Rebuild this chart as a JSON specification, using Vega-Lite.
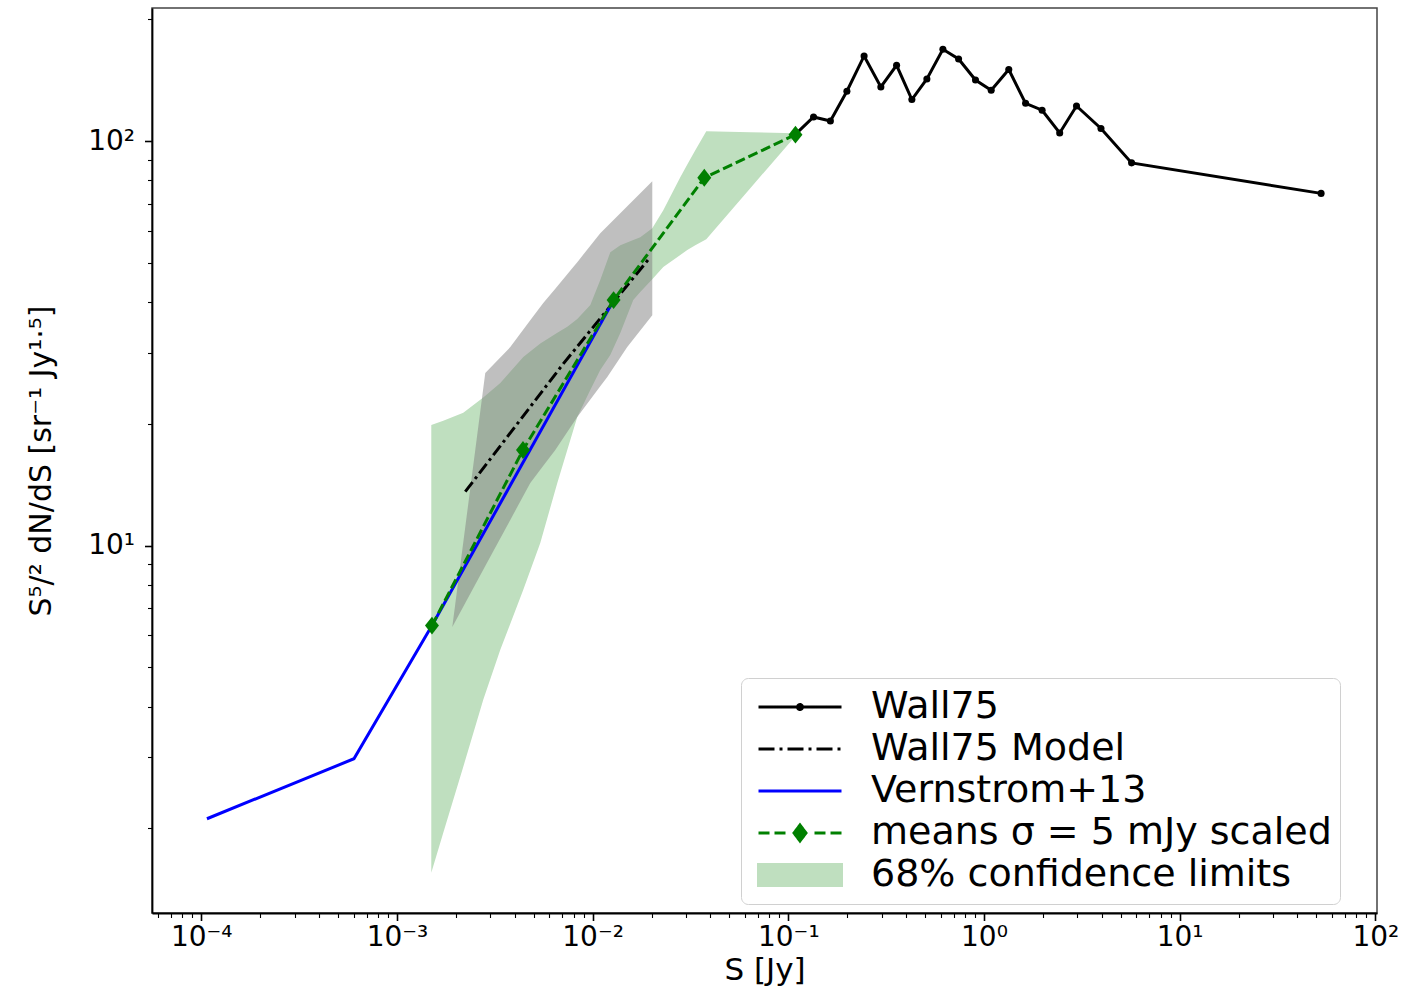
{
  "$schema": "https://vega.github.io/schema/vega-lite/v6.json",
  "width": 1225,
  "height": 905,
  "autosize": {"type": "none"},
  "padding": {"left": 152, "top": 8, "right": 29, "bottom": 73},
  "background": "white",
  "config": {
    "view": {"stroke": "#444", "strokeWidth": 1.5},
    "font": "DejaVu Sans",
    "axis": {
      "domainColor": "black", "domainWidth": 1.8, "tickColor": "black", "grid": false,
      "labelFont": "DejaVu Sans", "labelFontSize": 28, "labelColor": "black",
      "labelOverlap": false, "labelFlush": false, "labelBound": false,
      "titleColor": "black", "titleFontWeight": "normal"
    },
    "legend": {
      "symbolType": {"expr": "datum.value === 'Wall75' ? 'M-0.633,0H4.9M1.968,0a0.165,0.165 0 1,0 0.33,0a0.165,0.165 0 1,0 -0.33,0' : datum.value === 'means σ = 5 mJy scaled' ? 'M-0.633,0H0.1M0.433,0H1.167M3.1,0H3.833M4.167,0H4.9M2.133,-0.53L2.533,0L2.133,0.53L1.733,0Z' : datum.value === '68% confidence limits' ? 'M-0.633,-0.7H4.9V0.7H-0.633Z' : 'M-0.633,0H4.9'"},
      "symbolFillColor": {"expr": "datum.value === 'Vernstrom+13' ? 'blue' : datum.value === '68% confidence limits' ? '#bfdfbf' : datum.value === 'means σ = 5 mJy scaled' ? 'green' : 'black'"},
      "symbolStrokeColor": {"expr": "datum.value === 'Vernstrom+13' ? 'blue' : datum.value === '68% confidence limits' ? 'transparent' : datum.value === 'means σ = 5 mJy scaled' ? 'green' : 'black'"},
      "symbolDash": {"expr": "datum.value === 'Wall75 Model' ? [16,5,3,5] : [1,0]"},
      "symbolStrokeWidth": 3,
      "symbolOpacity": 1
    }
  },
  "datasets": {
    "wall": [
      {"S": 0.1090, "N": 104.1}, {"S": 0.1346, "N": 114.8}, {"S": 0.1641, "N": 112.2},
      {"S": 0.1993, "N": 132.9}, {"S": 0.2440, "N": 162.5}, {"S": 0.2972, "N": 136.2},
      {"S": 0.3576, "N": 154.1}, {"S": 0.4281, "N": 126.8}, {"S": 0.5108, "N": 142.5},
      {"S": 0.6168, "N": 168.8}, {"S": 0.7418, "N": 159.7}, {"S": 0.9052, "N": 141.7},
      {"S": 1.089, "N": 133.7}, {"S": 1.339, "N": 150.4}, {"S": 1.632, "N": 124.1},
      {"S": 1.982, "N": 119.3}, {"S": 2.438, "N": 104.8}, {"S": 2.971, "N": 122.2},
      {"S": 3.963, "N": 107.5}, {"S": 5.680, "N": 88.4}, {"S": 52.83, "N": 74.3}
    ],
    "model": [
      {"S": 0.002235, "N": 13.60}, {"S": 0.007107, "N": 28.23}, {"S": 0.01971, "N": 51.69}
    ],
    "vern": [
      {"S": 0.0001069, "N": 2.112}, {"S": 0.000603, "N": 2.972}, {"S": 0.00151, "N": 6.343}, {"S": 0.0129, "N": 40.70}
    ],
    "means": [
      {"S": 0.00151, "N": 6.343}, {"S": 0.004407, "N": 17.24}, {"S": 0.0128, "N": 40.47},
      {"S": 0.03721, "N": 81.20}, {"S": 0.1088, "N": 103.8}
    ],
    "band": [
      {"S": 0.001498, "hi": 19.87, "lo": 1.553}, {"S": 0.001725, "hi": 20.35, "lo": 1.950},
      {"S": 0.002183, "hi": 21.31, "lo": 2.840}, {"S": 0.002761, "hi": 23.24, "lo": 4.156},
      {"S": 0.003374, "hi": 25.23, "lo": 5.525}, {"S": 0.004422, "hi": 29.26, "lo": 7.775},
      {"S": 0.005401, "hi": 31.59, "lo": 10.15}, {"S": 0.006599, "hi": 33.60, "lo": 14.29},
      {"S": 0.007422, "hi": 34.76, "lo": 17.24}, {"S": 0.008348, "hi": 36.33, "lo": 20.80},
      {"S": 0.009730, "hi": 39.34, "lo": 24.25}, {"S": 0.010941, "hi": 45.35, "lo": 27.18},
      {"S": 0.012312, "hi": 53.18, "lo": 29.59}, {"S": 0.013850, "hi": 55.34, "lo": 33.55},
      {"S": 0.016133, "hi": 57.01, "lo": 40.47}, {"S": 0.017521, "hi": 57.92, "lo": 42.36},
      {"S": 0.020178, "hi": 60.95, "lo": 45.60}, {"S": 0.022970, "hi": 67.52, "lo": 48.84},
      {"S": 0.028054, "hi": 81.47, "lo": 52.29}, {"S": 0.030463, "hi": 87.53, "lo": 53.80},
      {"S": 0.033473, "hi": 95.00, "lo": 55.34}, {"S": 0.038097, "hi": 105.85, "lo": 57.26},
      {"S": 0.063938, "hi": 105.25, "lo": 76.53}, {"S": 0.10856, "hi": 104.66, "lo": 102.9}
    ],
    "grey": [
      {"S": 0.001918, "hi": 6.296, "lo": 6.296}, {"S": 0.002827, "hi": 26.71, "lo": 8.906},
      {"S": 0.003795, "hi": 30.97, "lo": 11.58}, {"S": 0.004801, "hi": 36.06, "lo": 14.29},
      {"S": 0.005595, "hi": 39.78, "lo": 15.76}, {"S": 0.006446, "hi": 43.18, "lo": 17.24},
      {"S": 0.007964, "hi": 48.84, "lo": 20.10}, {"S": 0.008348, "hi": 50.23, "lo": 20.80},
      {"S": 0.010941, "hi": 59.25, "lo": 24.77}, {"S": 0.011883, "hi": 61.66, "lo": 26.11},
      {"S": 0.015031, "hi": 69.08, "lo": 30.97}, {"S": 0.020178, "hi": 79.62, "lo": 37.15}
    ]
  },
  "encoding": {
    "x": {
      "field": "S", "type": "quantitative",
      "scale": {"type": "log", "domain": [0.000056, 102], "nice": false},
      "axis": {
        "title": "S [Jy]", "titleFontSize": 31, "titleFont": "DejaVu Sans", "titlePadding": 4,
        "values": [0.00006, 0.00007, 0.00008, 0.00009, 0.0001, 0.0002, 0.0003, 0.0004, 0.0005, 0.0006, 0.0007, 0.0008, 0.0009, 0.001, 0.002, 0.003, 0.004, 0.005, 0.006, 0.007, 0.008, 0.009, 0.01, 0.02, 0.03, 0.04, 0.05, 0.06, 0.07, 0.08, 0.09, 0.1, 0.2, 0.3, 0.4, 0.5, 0.6, 0.7, 0.8, 0.9, 1, 2, 3, 4, 5, 6, 7, 8, 9, 10, 20, 30, 40, 50, 60, 70, 80, 90, 100],
        "labelExpr": "abs(log(datum.value)/LN10 - round(log(datum.value)/LN10)) < 0.001 ? ['10⁻⁴','10⁻³','10⁻²','10⁻¹','10⁰','10¹','10²'][round(log(datum.value)/LN10)+4] : ''",
        "tickSize": {"condition": {"test": "abs(log(datum.value)/LN10 - round(log(datum.value)/LN10)) < 0.001", "value": 7.5}, "value": 4.5},
        "tickWidth": {"condition": {"test": "abs(log(datum.value)/LN10 - round(log(datum.value)/LN10)) < 0.001", "value": 1.6}, "value": 1.1},
        "labelPadding": 3
      }
    },
    "y": {
      "field": "N", "type": "quantitative",
      "scale": {"type": "log", "domain": [1.235, 213.5], "nice": false},
      "axis": {
        "title": "S⁵/² dN/dS [sr⁻¹ Jy¹·⁵]", "titleFontSize": 30, "titleFont": "DejaVu Sans", "titlePadding": 31,
        "values": [2, 3, 4, 5, 6, 7, 8, 9, 10, 20, 30, 40, 50, 60, 70, 80, 90, 100, 200],
        "labelExpr": "datum.value == 10 ? '10¹' : datum.value == 100 ? '10²' : ''",
        "tickSize": {"condition": {"test": "datum.value == 10 || datum.value == 100", "value": 7.5}, "value": 4.5},
        "tickWidth": {"condition": {"test": "datum.value == 10 || datum.value == 100", "value": 1.6}, "value": 1.1},
        "labelPadding": 10
      }
    }
  },
  "layer": [
    {
      "data": {"name": "band"},
      "mark": {"type": "area", "opacity": 1},
      "encoding": {
        "y": {"field": "hi", "type": "quantitative"},
        "y2": {"field": "lo"},
        "color": {
          "datum": "68% confidence limits",
          "scale": {
            "domain": ["Wall75", "Wall75 Model", "Vernstrom+13", "means σ = 5 mJy scaled", "68% confidence limits"],
            "range": ["black", "black", "blue", "green", "#bfdfbf"]
          },
          "legend": {
            "title": null,
            "orient": "none", "legendX": 589, "legendY": 670,
            "padding": 8, "strokeColor": "#d0d0d0", "fillColor": "white", "cornerRadius": 7,
            "labelFont": "DejaVu Sans", "labelFontSize": 38, "labelColor": "black", "labelLimit": 900,
            "symbolSize": 900, "labelOffset": 84, "rowPadding": 0, "clipHeight": 42
          }
        }
      }
    },
    {
      "data": {"name": "grey"},
      "mark": {"type": "area", "color": "gray", "opacity": 0.5},
      "encoding": {
        "y": {"field": "hi", "type": "quantitative"},
        "y2": {"field": "lo"}
      }
    },
    {
      "data": {"name": "wall"},
      "mark": {"type": "line", "strokeWidth": 3, "point": {"filled": true, "size": 50}},
      "encoding": {"color": {"datum": "Wall75"}}
    },
    {
      "data": {"name": "model"},
      "mark": {"type": "line", "strokeWidth": 3, "strokeDash": [12, 4, 3, 4]},
      "encoding": {"color": {"datum": "Wall75 Model"}}
    },
    {
      "data": {"name": "vern"},
      "mark": {"type": "line", "strokeWidth": 3},
      "encoding": {"color": {"datum": "Vernstrom+13"}}
    },
    {
      "data": {"name": "means"},
      "mark": {"type": "line", "strokeWidth": 3, "strokeDash": [10, 4]},
      "encoding": {"color": {"datum": "means σ = 5 mJy scaled"}}
    },
    {
      "data": {"name": "means"},
      "mark": {"type": "point", "filled": true, "opacity": 1, "size": 320, "shape": "M0,-1L0.78,0L0,1L-0.78,0Z"},
      "encoding": {"color": {"datum": "means σ = 5 mJy scaled"}}
    }
  ]
}
